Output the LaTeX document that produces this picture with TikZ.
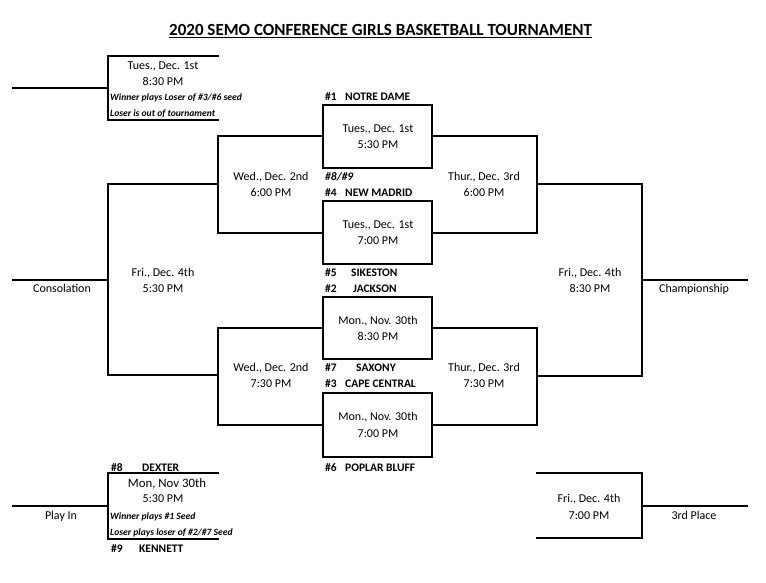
\documentclass[tikz,border=0pt]{standalone}
\usepackage{fontspec}
\setmainfont{Carlito}
\begin{document}
\begin{tikzpicture}[x=1pt,y=-1pt,
  br/.style={line width=2pt, line join=miter, line cap=rect},
  game/.style={draw, line width=2pt, minimum width=109pt, inner sep=0pt},
  txt/.style={font=\fontsize{12}{14}\selectfont, inner sep=0pt, anchor=base},
  team/.style={font=\bfseries\fontsize{11.5}{14}\selectfont, inner sep=0pt, anchor=base west},
  note/.style={font=\bfseries\itshape\fontsize{9.6}{11}\selectfont, inner sep=0pt, anchor=base west}]
\useasboundingbox (0,0) rectangle (766,582);

% title
\node[font=\bfseries\fontsize{17}{20}\selectfont, anchor=base, inner sep=0pt] (title) at (380.5,35) {2020 SEMO CONFERENCE GIRLS BASKETBALL TOURNAMENT};
\draw[line width=1.2pt] ([yshift=-2.5pt]title.base west) -- ([yshift=-2.5pt]title.base east);

% first-round game boxes
\node[game, minimum height=63pt] (g1) at (377.5,136) {};
\node[game, minimum height=63pt] (g2) at (377.5,232.5) {};
\node[game, minimum height=62pt] (g3) at (377.5,328) {};
\node[game, minimum height=64pt] (g4) at (377.5,425) {};

% coordinates
\coordinate (wA) at (218,184);
\coordinate (wB) at (218,375);
\coordinate (cA) at (108,184);
\coordinate (cB) at (108,375);
\coordinate (cons) at (13,280);
\coordinate (tA) at (537,184);
\coordinate (tB) at (537,376);
\coordinate (fA) at (642,184);
\coordinate (fB) at (642,376);
\coordinate (champ) at (747,280);

\coordinate (pa1) at (218,56);
\coordinate (pa2) at (108,56);
\coordinate (pa3) at (108,120);
\coordinate (pa4) at (218,120);
\coordinate (pa5) at (13,88);

\coordinate (pb1) at (218,473);
\coordinate (pb2) at (108,473);
\coordinate (pb3) at (108,539);
\coordinate (pb4) at (218,539);
\coordinate (pb5) at (13,506);

\coordinate (th1) at (537,473);
\coordinate (th2) at (642,473);
\coordinate (th3) at (642,538);
\coordinate (th4) at (537,538);
\coordinate (th5) at (747,506);

% left side brackets
\draw[br] (g1.west) -| (wA |- g2.west) -- (g2.west);
\draw[br] (g3.west) -| (wB |- g4.west) -- (g4.west);
\draw[br] (wA) -- (cA) -- (cB) -- (wB);
\draw[br] (cons) -- (cons -| cA);

% right side brackets
\draw[br] (g1.east) -| (tA |- g2.east) -- (g2.east);
\draw[br] (g3.east) -| (tB |- g4.east) -- (g4.east);
\draw[br] (tA) -- (fA) -- (fB) -- (tB);
\draw[br] (champ) -- (champ -| fA);

% top-left game
\draw[br] (pa1) -- (pa2) -- (pa3) -- (pa4);
\draw[br] (pa5) -- (pa5 -| pa2);

% play-in
\draw[br] (pb1) -- (pb2) -- (pb3) -- (pb4);
\draw[br] (pb5) -- (pb5 -| pb2);

% third place
\draw[br] (th1) -- (th2) -- (th3) -- (th4);
\draw[br] (th5) -- (th5 -| th2);

% texts: top-left game
\node[txt] (tl1) at (163,69) {Tues., Dec. 1st};
\node[txt] (tl2) at (163,85) {8:30 PM};
\node[note] (tln1) at (110,100) {Winner plays Loser of \#3/\#6 seed};
\node[note] (tln2) at (110,116) {Loser is out of tournament};

% game box texts
\node[txt] (g1a) at (378,132) {Tues., Dec. 1st};
\node[txt] (g1b) at (378,148) {5:30 PM};
\node[txt] (g2a) at (378,228) {Tues., Dec. 1st};
\node[txt] (g2b) at (378,244) {7:00 PM};
\node[txt] (g3a) at (378,324) {Mon., Nov. 30th};
\node[txt] (g3b) at (378,340) {8:30 PM};
\node[txt] (g4a) at (378,420) {Mon., Nov. 30th};
\node[txt] (g4b) at (378,437) {7:00 PM};

% second round
\node[txt] (w1a) at (271,180) {Wed., Dec. 2nd};
\node[txt] (w1b) at (271,196) {6:00 PM};
\node[txt] (w2a) at (271,371) {Wed., Dec. 2nd};
\node[txt] (w2b) at (271,387) {7:30 PM};
\node[txt] (t1a) at (484,180) {Thur., Dec. 3rd};
\node[txt] (t1b) at (484,196) {6:00 PM};
\node[txt] (t2a) at (484,371) {Thur., Dec. 3rd};
\node[txt] (t2b) at (484,387) {7:30 PM};

% finals
\node[txt] (c1a) at (163,276) {Fri., Dec. 4th};
\node[txt] (c1b) at (163,292) {5:30 PM};
\node[txt] (c1c) at (62,292) {Consolation};
\node[txt] (ch1a) at (590,276) {Fri., Dec. 4th};
\node[txt] (ch1b) at (590,292) {8:30 PM};
\node[txt] (ch1c) at (694,292) {Championship};
\node[txt] (th1a) at (589,502) {Fri., Dec. 4th};
\node[txt] (th1b) at (589,519) {7:00 PM};
\node[txt] (th1c) at (694,519) {3rd Place};

% play-in texts
\node[txt, font=\fontsize{12.8}{14}\selectfont] (pi1) at (167,487) {Mon, Nov 30th};
\node[txt] (pi2) at (163,502) {5:30 PM};
\node[note] (pin1) at (110,519) {Winner plays \#1 Seed};
\node[note] (pin2) at (110,535) {Loser plays loser of \#2/\#7 Seed};
\node[txt] (pi3) at (61,519) {Play In};

% teams
\node[team] (s1) at (325,100) {\#1};
\node[team] (n1) at (345,100) {NOTRE DAME};
\node[team, font=\bfseries\itshape\fontsize{11.5}{14}\selectfont] (s89) at (325,180) {\#8/\#9};
\node[team] (s4) at (325,196) {\#4};
\node[team] (n4) at (345,196) {NEW MADRID};
\node[team] (s5) at (325,276) {\#5};
\node[team] (n5) at (351,276) {SIKESTON};
\node[team] (s2) at (325,292) {\#2};
\node[team] (n2) at (353,292) {JACKSON};
\node[team] (s7) at (325,371) {\#7};
\node[team] (n7) at (356,371) {SAXONY};
\node[team] (s3) at (325,387) {\#3};
\node[team] (n3) at (345,387) {CAPE CENTRAL};
\node[team] (s6) at (325,471) {\#6};
\node[team] (n6) at (345,471) {POPLAR BLUFF};
\node[team] (s8) at (111,471) {\#8};
\node[team] (n8) at (142,471) {DEXTER};
\node[team] (s9) at (111,552) {\#9};
\node[team] (n9) at (139,552) {KENNETT};
\end{tikzpicture}
\end{document}
